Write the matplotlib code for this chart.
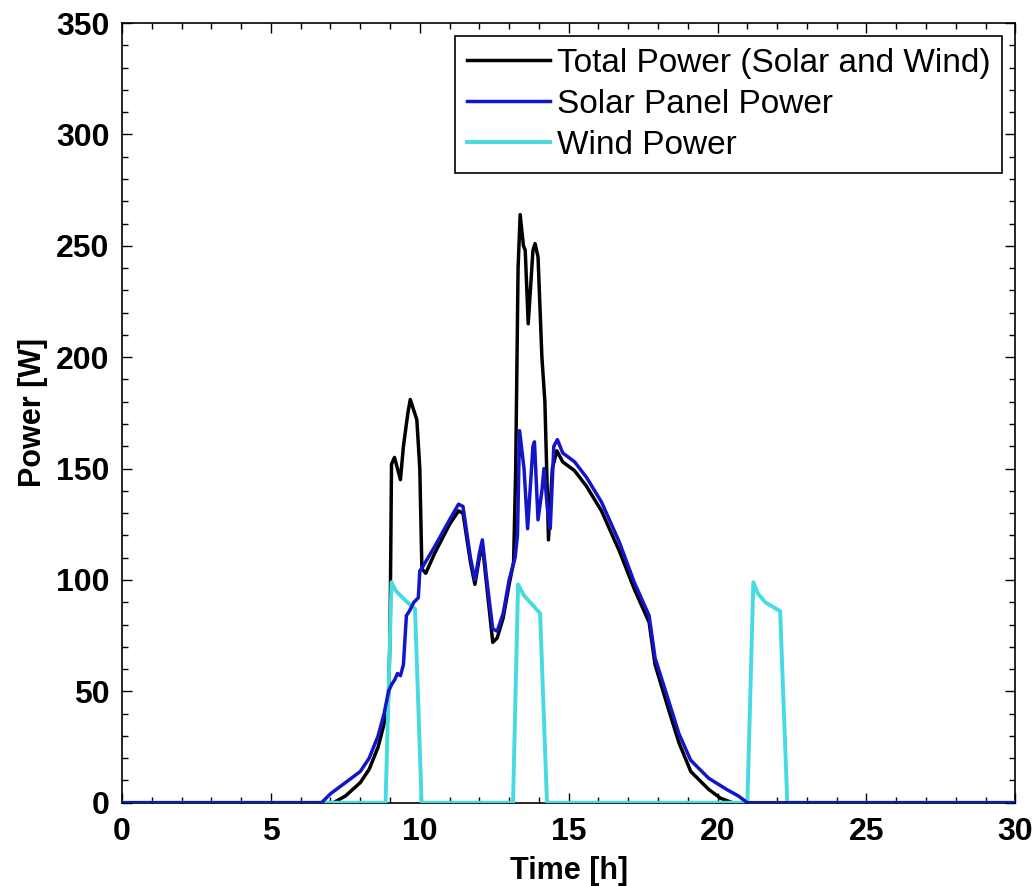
import matplotlib
matplotlib.use('Agg')
import matplotlib.pyplot as plt
from matplotlib.ticker import MultipleLocator

plt.rcParams['font.family'] = ['Liberation Sans', 'DejaVu Sans']
plt.rcParams['font.weight'] = 'bold'

# total power (solar + wind)
t_total = [0, 7.1, 7.5, 8.0, 8.3, 8.6, 8.85, 8.95, 9.0, 9.05, 9.15, 9.25, 9.35, 9.45,
           9.6, 9.68, 9.8, 9.9, 10.0, 10.07, 10.2, 10.5, 11.0, 11.3, 11.45, 11.7, 11.85,
           12.0, 12.1, 12.25, 12.45, 12.6, 12.8, 13.0, 13.15, 13.22, 13.3, 13.37, 13.48,
           13.54, 13.64, 13.8, 13.87, 13.97, 14.1, 14.2, 14.28, 14.32, 14.45, 14.6, 14.8,
           15.2, 15.6, 16.1, 16.7, 17.2, 17.7, 17.9, 18.35, 18.7, 19.1, 19.7, 20.1, 20.5, 30]
p_total = [0, 0, 3, 9, 15, 25, 38, 48, 75, 152, 155, 150, 145, 160,
           175, 181, 176, 172, 150, 105, 103, 112, 125, 131, 130, 108, 98,
           110, 116, 97, 72, 74, 83, 98, 108, 150, 240, 264, 250,
           248, 215, 248, 251, 245, 200, 180, 140, 118, 150, 158, 153,
           149, 142, 131, 113, 96, 81, 62, 42, 27, 14, 6, 2, 0, 0]

# solar panel power
t_solar = [0, 6.7, 7.0, 7.5, 8.0, 8.3, 8.6, 8.8, 8.95, 9.05, 9.15, 9.25, 9.35, 9.45,
           9.55, 9.65, 9.8, 9.95, 10.0, 10.1, 10.5, 11.0, 11.3, 11.45, 11.7, 11.85,
           12.0, 12.1, 12.25, 12.45, 12.6, 12.8, 13.0, 13.2, 13.28, 13.35, 13.5, 13.62,
           13.8, 13.85, 13.97, 14.1, 14.17, 14.3, 14.38, 14.5, 14.62, 14.8, 15.2, 15.6,
           16.1, 16.7, 17.2, 17.7, 17.9, 18.35, 18.7, 19.1, 19.7, 20.3, 20.7, 21.0, 30]
p_solar = [0, 0, 4, 9, 14, 20, 30, 40, 50, 53, 55, 58, 57, 62,
           84, 86, 90, 92, 104, 106, 115, 127, 134, 133, 110, 100,
           112, 118, 100, 78, 77, 85, 100, 110, 120, 167, 150, 123,
           160, 162, 127, 140, 150, 130, 123, 160, 163, 157, 153, 146,
           135, 117, 99, 84, 65, 46, 31, 19, 11, 6, 3, 0, 0]

# wind power
t_wind = [0, 8.85, 9.05, 9.2, 9.5, 9.84, 10.06, 13.13, 13.3, 13.5, 14.04, 14.27,
          21.0, 21.2, 21.35, 21.6, 22.1, 22.34, 30]
p_wind = [0, 0, 99, 95, 91, 87, 0, 0, 98, 93, 85, 0,
          0, 99, 94, 90, 86, 0, 0]

fig = plt.figure(figsize=(10.34, 8.86), dpi=100)
ax = fig.add_axes([0.118, 0.094, 0.864, 0.880])

ax.plot(t_total, p_total, color='black', lw=2.5, label='Total Power (Solar and Wind)', zorder=2)
ax.plot(t_solar, p_solar, color='#1414c8', lw=2.5, label='Solar Panel Power', zorder=4)
ax.plot(t_wind, p_wind, color='#45dbe0', lw=2.8, label='Wind Power', zorder=3)

ax.set_xlim(0, 30)
ax.set_ylim(0, 350)
ax.xaxis.set_major_locator(MultipleLocator(5))
ax.xaxis.set_minor_locator(MultipleLocator(1))
ax.yaxis.set_major_locator(MultipleLocator(50))
ax.yaxis.set_minor_locator(MultipleLocator(10))
ax.tick_params(which='both', direction='in', top=True, right=True, labelsize=23, width=1)
ax.tick_params(axis='x', which='major', pad=10)
ax.tick_params(axis='y', which='major', pad=9)
ax.tick_params(which='major', length=7)
ax.tick_params(which='minor', length=4)
for s in ax.spines.values():
    s.set_linewidth(1.2)

ax.set_xlabel('Time [h]', fontsize=22, fontweight='bold', labelpad=7)
ax.set_ylabel('Power [W]', fontsize=22, fontweight='bold', labelpad=6)

leg = ax.legend(loc='upper right', handlelength=2.5, handletextpad=0.2,
                borderaxespad=0.4, fancybox=False, framealpha=1, edgecolor='black',
                labelspacing=0.3, borderpad=0.35,
                prop={'family': ['Liberation Sans'], 'weight': 'normal', 'size': 24})
leg.get_frame().set_linewidth(1.2)

fig.savefig('out.png', dpi=100)
